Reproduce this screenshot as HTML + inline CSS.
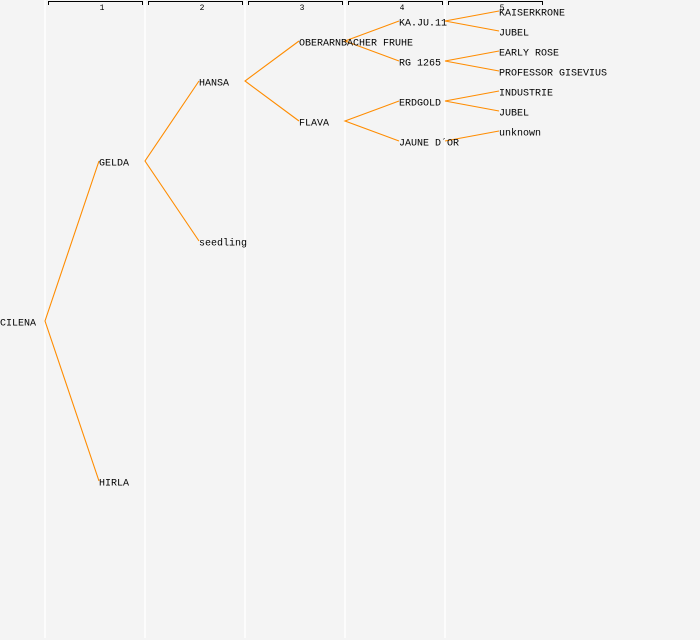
<!DOCTYPE html>
<html><head><style>html,body{margin:0;padding:0;background:#f4f4f4}svg{display:block}</style></head>
<body>
<svg width="700" height="640" xmlns="http://www.w3.org/2000/svg">
<rect width="700" height="640" fill="#f4f4f4"/>
<g stroke="#ffffff" stroke-width="1.5">
<line x1="45" y1="0" x2="45" y2="638"/><line x1="145" y1="0" x2="145" y2="638"/><line x1="245" y1="0" x2="245" y2="638"/><line x1="345" y1="0" x2="345" y2="638"/><line x1="445" y1="0" x2="445" y2="638"/>
</g>
<g stroke="#000" stroke-width="1" fill="none">
<path d="M48.5 5V1.5H142.5V5"/><path d="M148.5 5V1.5H242.5V5"/><path d="M248.5 5V1.5H342.5V5"/><path d="M348.5 5V1.5H442.5V5"/><path d="M448.5 5V1.5H542.5V5"/>
</g>
<g font-family="Liberation Mono, monospace" font-size="8" text-anchor="middle" fill="#000">
<text x="102" y="10">1</text><text x="202" y="10">2</text><text x="302" y="10">3</text><text x="402" y="10">4</text><text x="502" y="10">5</text>
</g>
<g stroke="#ff8c00" stroke-width="1.1" fill="none">
<path d="M99 161L45 321L99 481"/>
<path d="M199 81L145 161L199 241"/>
<path d="M299 41L245 81L299 121"/>
<path d="M399 21L345 41L399 61"/>
<path d="M399 101L345 121L399 141"/>
<path d="M499 11L445 21L499 31"/>
<path d="M499 51L445 61L499 71"/>
<path d="M499 91L445 101L499 111"/>
<path d="M499 131L445 141"/>
</g>
<g font-family="Liberation Mono, monospace" font-size="10" fill="#000" dominant-baseline="middle">
<text x="0" y="323">CILENA</text>
<text x="99" y="163">GELDA</text>
<text x="99" y="483">HIRLA</text>
<text x="199" y="83">HANSA</text>
<text x="199" y="243">seedling</text>
<text x="299" y="43">OBERARNBACHER FRUHE</text>
<text x="299" y="123">FLAVA</text>
<text x="399" y="23">KA.JU.11</text>
<text x="399" y="63">RG 1265</text>
<text x="399" y="103">ERDGOLD</text>
<text x="399" y="143">JAUNE D´OR</text>
<text x="499" y="13">KAISERKRONE</text>
<text x="499" y="33">JUBEL</text>
<text x="499" y="53">EARLY ROSE</text>
<text x="499" y="73">PROFESSOR GISEVIUS</text>
<text x="499" y="93">INDUSTRIE</text>
<text x="499" y="113">JUBEL</text>
<text x="499" y="133">unknown</text>
</g>
</svg>
</body></html>
